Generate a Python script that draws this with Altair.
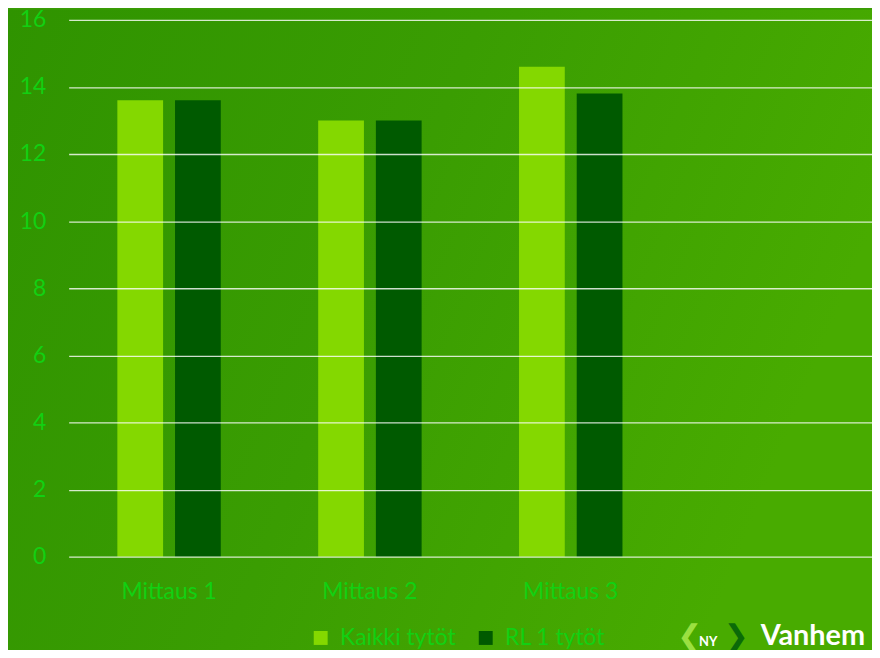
import altair as alt
import pandas as pd

categories = ["Mittaus 1", "Mittaus 2", "Mittaus 3"]
series = ["Kaikki tytöt", "RL 1 tytöt"]
kaikki = [13.6, 13.0, 14.6]
rl1 = [13.6, 13.0, 13.8]
y_ticks = [0, 2, 4, 6, 8, 10, 12, 14, 16]
colors = ["#84d800", "#005a00"]
text_green = "#12d012"

rows = []
for c, a, b in zip(categories, kaikki, rl1):
    rows.append({"cat": c, "series": series[0], "value": a})
    rows.append({"cat": c, "series": series[1], "value": b})
df = pd.DataFrame(rows)

W, H = 808, 540
FONT = "Lato"

bg = alt.Chart(pd.DataFrame({"a": [0]})).mark_rect(
    color=alt.LinearGradient(
        gradient="linear",
        stops=[alt.GradientStop(color="#2f9300", offset=0),
               alt.GradientStop(color="#3a9d02", offset=0.5),
               alt.GradientStop(color="#48ab00", offset=1)],
        x1=0, x2=1, y1=0, y2=0.3),
).encode(x=alt.value(-61), x2=alt.value(W + 10), y=alt.value(-10), y2=alt.value(H + 100))

bars = alt.Chart(df).mark_bar().encode(
    x=alt.X("cat:N", sort=categories,
            scale=alt.Scale(domain=categories + [" "], paddingInner=0.485, paddingOuter=0.2425,
                            round=False),
            axis=alt.Axis(title=None, labelAngle=0, labelColor=text_green, labelFont=FONT,
                          labelFontSize=23, labelPadding=24, domain=False, ticks=False,
                          grid=False, zindex=1)),
    xOffset=alt.XOffset("series:N", sort=series,
                        scale=alt.Scale(paddingInner=0.207, paddingOuter=0, round=False)),
    y=alt.Y("value:Q", scale=alt.Scale(domain=[0, 16], nice=False),
            axis=alt.Axis(title=None, values=y_ticks, labelColor=text_green, labelFont=FONT,
                          labelFontSize=23, labelPadding=23, domain=False, ticks=False,
                          gridColor="#ffffff", gridOpacity=0.8, gridWidth=1.3, zindex=1)),
    color=alt.Color("series:N", sort=series,
                    scale=alt.Scale(domain=series, range=colors),
                    legend=alt.Legend(title=None, orient="none", direction="horizontal",
                                      legendX=242, legendY=610, symbolType="square",
                                      symbolSize=196, symbolStrokeWidth=0, symbolOpacity=1,
                                      labelColor=text_green, labelFont=FONT, labelFontSize=23,
                                      labelOffset=8, columnPadding=18)),
)

logo = alt.Chart(pd.DataFrame({"t": ["Vanhem"]})).mark_text(
    align="left", baseline="alphabetic", font=FONT, fontSize=29, fontWeight="bold", color="#ffffff"
).encode(x=alt.value(696), y=alt.value(629), text="t:N")

ny = alt.Chart(pd.DataFrame({"t": ["NY"]})).mark_text(
    align="left", baseline="alphabetic", font=FONT, fontSize=13, fontWeight="bold", color="#ffffff"
).encode(x=alt.value(634), y=alt.value(630), text="t:N")

chev_l = alt.Chart(pd.DataFrame({"t": ["❮"]})).mark_text(
    align="left", baseline="alphabetic", font="DejaVu Sans", fontSize=30, fontWeight="bold",
    color="#9be040"
).encode(x=alt.value(612), y=alt.value(630), text="t:N")

chev_r = alt.Chart(pd.DataFrame({"t": ["❯"]})).mark_text(
    align="left", baseline="alphabetic", font="DejaVu Sans", fontSize=30, fontWeight="bold",
    color="#0b6a08"
).encode(x=alt.value(659), y=alt.value(630), text="t:N")

chart = alt.layer(bg, bars, chev_l, chev_r, ny, logo).properties(
    width=W, height=H,
    autosize=alt.AutoSizeParams(type="none"),
    padding={"left": 61, "top": 10, "right": 0, "bottom": 92},
    background="#3a9c05",
).configure_view(strokeWidth=0)

chart.save("out.html", embed_options={"renderer": "svg", "actions": False})
